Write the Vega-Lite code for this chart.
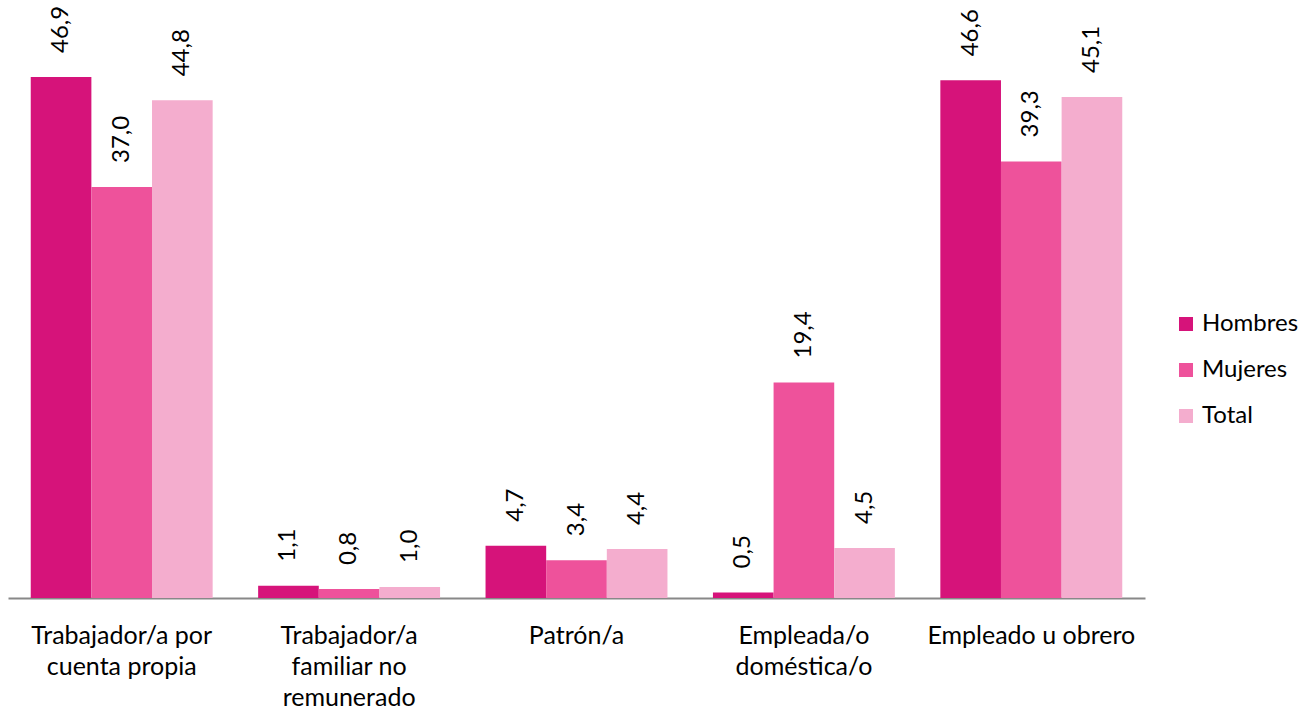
{
  "$schema": "https://vega.github.io/schema/vega-lite/v6.json",
  "autosize": "none",
  "width": 1137,
  "height": 598,
  "padding": {"left": 8, "top": 0, "right": 166, "bottom": 111},
  "background": "white",
  "data": {
    "values": [
      {"categoria": "Trabajador/a por cuenta propia", "serie": "Hombres", "valor": 46.9},
      {"categoria": "Trabajador/a por cuenta propia", "serie": "Mujeres", "valor": 37.0},
      {"categoria": "Trabajador/a por cuenta propia", "serie": "Total", "valor": 44.8},
      {"categoria": "Trabajador/a familiar no remunerado", "serie": "Hombres", "valor": 1.1},
      {"categoria": "Trabajador/a familiar no remunerado", "serie": "Mujeres", "valor": 0.8},
      {"categoria": "Trabajador/a familiar no remunerado", "serie": "Total", "valor": 1.0},
      {"categoria": "Patrón/a", "serie": "Hombres", "valor": 4.7},
      {"categoria": "Patrón/a", "serie": "Mujeres", "valor": 3.4},
      {"categoria": "Patrón/a", "serie": "Total", "valor": 4.4},
      {"categoria": "Empleada/o doméstica/o", "serie": "Hombres", "valor": 0.5},
      {"categoria": "Empleada/o doméstica/o", "serie": "Mujeres", "valor": 19.4},
      {"categoria": "Empleada/o doméstica/o", "serie": "Total", "valor": 4.5},
      {"categoria": "Empleado u obrero", "serie": "Hombres", "valor": 46.6},
      {"categoria": "Empleado u obrero", "serie": "Mujeres", "valor": 39.3},
      {"categoria": "Empleado u obrero", "serie": "Total", "valor": 45.1}
    ]
  },
  "transform": [
    {"calculate": "replace(format(datum.valor, '.1f'), '.', ',')", "as": "etiqueta"}
  ],
  "encoding": {
    "x": {
      "field": "categoria",
      "type": "nominal",
      "sort": null,
      "scale": {"paddingInner": 0.2, "paddingOuter": 0.1},
      "axis": {
        "title": null,
        "labelAngle": 0,
        "ticks": false,
        "domainColor": "#888888",
        "domainWidth": 2,
        "labelFont": "Lato",
        "labelFontSize": 25,
        "labelColor": "#000000",
        "labelPadding": 37,
        "labelLineHeight": 31,
        "labelBaseline": "middle",
        "labelLimit": 0,
        "labelOverlap": false,
        "labelExpr": "datum.value == 'Trabajador/a por cuenta propia' ? ['Trabajador/a por', 'cuenta propia'] : datum.value == 'Trabajador/a familiar no remunerado' ? ['Trabajador/a', 'familiar no', 'remunerado'] : datum.value == 'Empleada/o doméstica/o' ? ['Empleada/o', 'doméstica/o'] : datum.value"
      }
    },
    "xOffset": {"field": "serie", "type": "nominal", "scale": {"paddingInner": 0, "paddingOuter": 0}},
    "y": {
      "field": "valor",
      "type": "quantitative",
      "scale": {"domain": [0, 53.83], "nice": false, "zero": true},
      "axis": null
    }
  },
  "layer": [
    {
      "mark": {"type": "bar"},
      "encoding": {
        "color": {
          "field": "serie",
          "type": "nominal",
          "scale": {"domain": ["Hombres", "Mujeres", "Total"], "range": ["#D6137A", "#EE529B", "#F4ADCE"]},
          "legend": {
            "title": null,
            "orient": "none",
            "legendX": 1166,
            "legendY": 312,
            "symbolType": "square",
            "symbolSize": 196,
            "symbolStrokeWidth": 0,
            "labelFont": "Lato",
            "labelFontSize": 24,
            "labelColor": "#000000",
            "labelOffset": 4,
            "rowPadding": 22
          }
        }
      }
    },
    {
      "mark": {"type": "text", "angle": 270, "align": "left", "baseline": "middle", "dx": 24, "font": "Lato", "fontSize": 24, "color": "#000000"},
      "encoding": {
        "text": {"field": "etiqueta", "type": "nominal"}
      }
    }
  ],
  "config": {
    "view": {"stroke": null}
  }
}
